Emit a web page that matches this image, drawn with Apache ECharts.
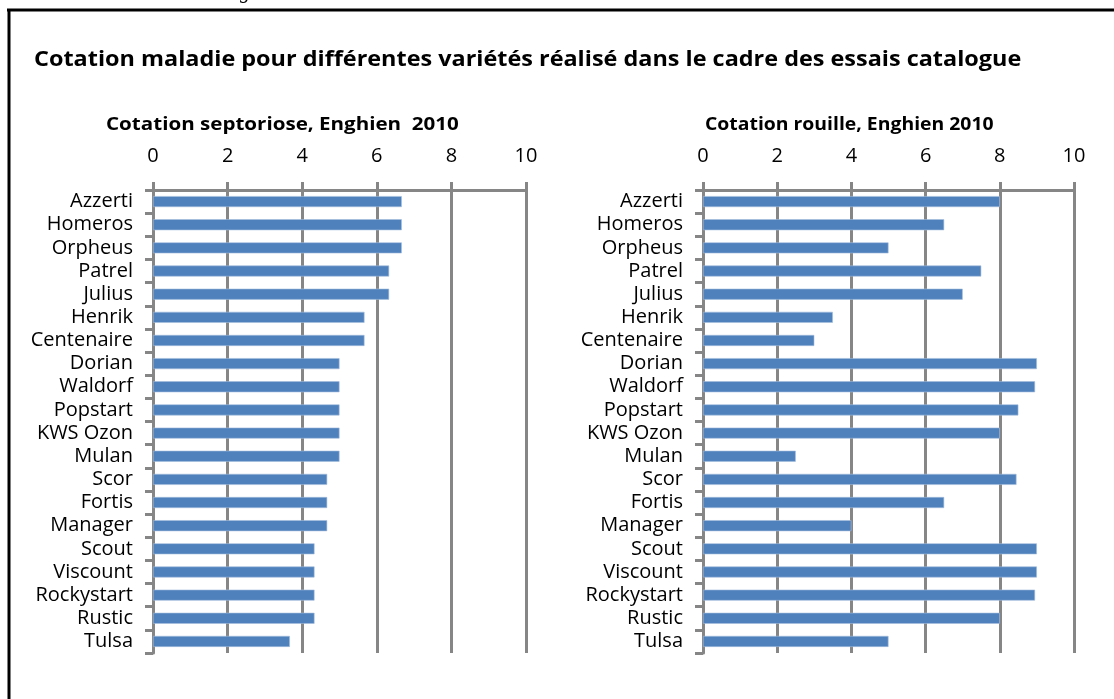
<!DOCTYPE html>
<html>
<head>
<meta charset="utf-8">
<script src="https://cdn.jsdelivr.net/npm/echarts@6/dist/echarts.min.js"></script>
<style>
  html, body { margin: 0; padding: 0; background: #fff; }
  #chart { width: 1114px; height: 699px; }
</style>
</head>
<body>
<div id="chart"></div>
<script>
const varieties = ['Azzerti', 'Homeros', 'Orpheus', 'Patrel', 'Julius', 'Henrik', 'Centenaire',
  'Dorian', 'Waldorf', 'Popstart', 'KWS Ozon', 'Mulan', 'Scor', 'Fortis', 'Manager',
  'Scout', 'Viscount', 'Rockystart', 'Rustic', 'Tulsa']

// cotation septoriose (moyennes, tiers de point)
const septoriose = [6.67, 6.67, 6.67, 6.33, 6.33, 5.67, 5.67, 5, 5, 5, 5, 5,
  4.67, 4.67, 4.67, 4.33, 4.33, 4.33, 4.33, 3.67]

// cotation rouille
const rouille = [8, 6.5, 5, 7.5, 7, 3.5, 3, 9, 8.95, 8.5, 8, 2.5,
  8.45, 6.5, 4, 9, 9, 8.95, 8, 5]

const scaleMin = 0
const scaleMax = 10
const scaleStep = 2

const mainTitle = 'Cotation maladie pour différentes variétés réalisé dans le cadre des essais catalogue'
const leftTitle = 'Cotation septoriose, Enghien  2010'
const rightTitle = 'Cotation rouille, Enghien 2010'

const FONT = 'Open Sans'
const GRID_GREY = '#868686'
const BAR_BLUE = '#4f81bd'

const chart = echarts.init(document.getElementById('chart'))

const valueAxis = (gridIndex) => ({
  type: 'value',
  gridIndex,
  position: 'top',
  min: scaleMin,
  max: scaleMax,
  interval: scaleStep,
  axisLine: { show: true, lineStyle: { color: GRID_GREY, width: 3 } },
  axisTick: { show: true, inside: false, length: 8, lineStyle: { color: GRID_GREY, width: 3 } },
  axisLabel: { color: '#000', fontFamily: FONT, fontSize: 20, margin: 24 },
  splitLine: { show: true, lineStyle: { color: GRID_GREY, width: 3 } }
})

const categoryAxis = (gridIndex) => ({
  type: 'category',
  gridIndex,
  data: varieties,
  inverse: true,
  axisLine: { show: true, lineStyle: { color: GRID_GREY, width: 3 } },
  axisTick: { show: true, length: 8, lineStyle: { color: GRID_GREY, width: 3 } },
  axisLabel: { color: '#000', fontFamily: FONT, fontSize: 20, margin: 20, interval: 0 },
  splitLine: { show: false }
})

const barSeries = (idx, values) => ({
  type: 'bar',
  xAxisIndex: idx,
  yAxisIndex: idx,
  data: values,
  barWidth: 11,
  itemStyle: { color: BAR_BLUE, borderColor: '#a5bddd', borderWidth: 0.6 },
  animation: false
})

// the source picture is stretched sideways, so titles get a scaleX
const titleText = (text, x, y, size, sx) => ({
  type: 'text',
  x, y,
  scaleX: sx,
  style: {
    text,
    font: 'bold ' + size + 'px "' + FONT + '"',
    fill: '#000',
    textVerticalAlign: 'middle'
  }
})

chart.setOption({
  animation: false,
  grid: [
    { left: 153, right: 588, top: 190, bottom: 46 },
    { left: 703, right: 40, top: 190, bottom: 46 }
  ],
  xAxis: [valueAxis(0), valueAxis(1)],
  yAxis: [categoryAxis(0), categoryAxis(1)],
  series: [barSeries(0, septoriose), barSeries(1, rouille)],
  graphic: [
    { type: 'line', shape: { x1: 7, y1: 10, x2: 1114, y2: 10 }, style: { stroke: '#000', lineWidth: 3 } },
    { type: 'line', shape: { x1: 9, y1: 10, x2: 9, y2: 699 }, style: { stroke: '#000', lineWidth: 3 } },
    { type: 'text', left: 240, top: -17, style: { text: 'g', font: 'italic 20px "Liberation Serif"', fill: '#000' } },
    titleText(mainTitle, 34, 60, 21, 1.115),
    titleText(leftTitle, 106, 125, 17, 1.21),
    titleText(rightTitle, 705, 125, 17, 1.14)
  ]
})

window.addEventListener('resize', () => chart.resize())
</script>
</body>
</html>
